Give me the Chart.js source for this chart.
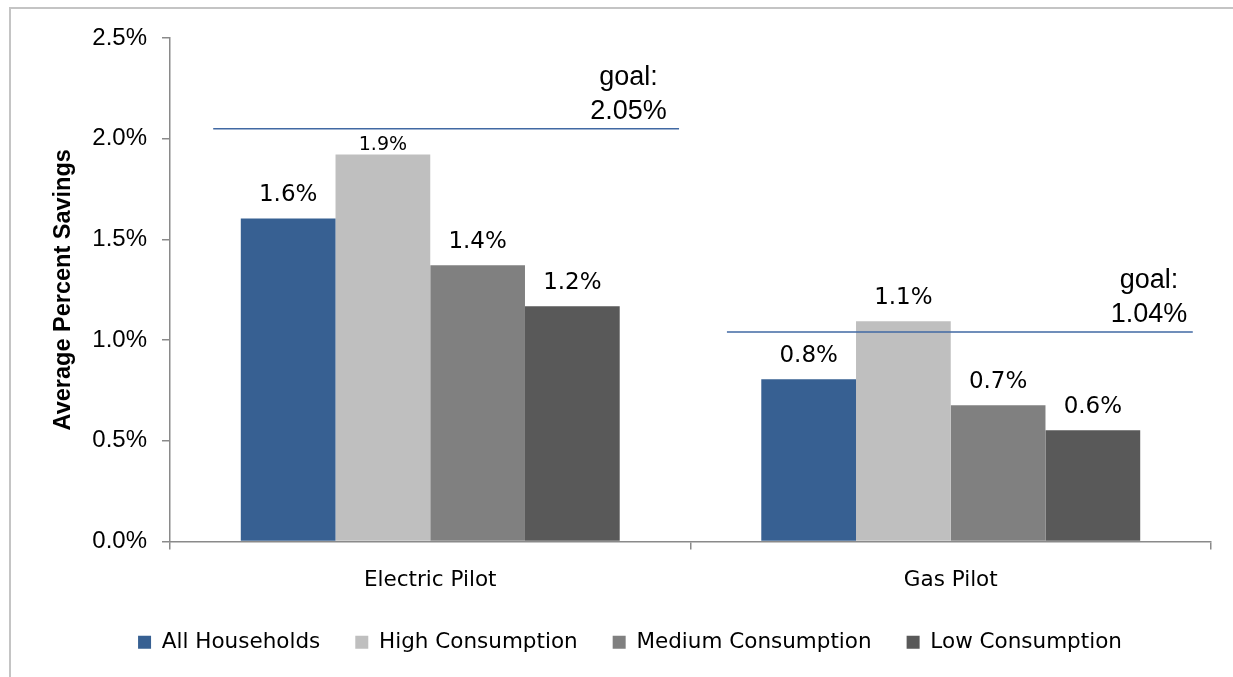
<!DOCTYPE html>
<html>
<head>
<meta charset="utf-8">
<script src="https://cdn.jsdelivr.net/npm/chart.js@4.4.1/dist/chart.umd.min.js"></script>
<style>
  html, body { margin: 0; padding: 0; background: #ffffff; overflow: hidden; }
  #wrap { position: relative; width: 1233px; height: 677px; }
</style>
</head>
<body>
<div id="wrap"><canvas id="chart" width="1233" height="677"></canvas></div>
<script>
// Average percent savings by pilot and household consumption group
const categories = ['Electric Pilot', 'Gas Pilot'];
const seriesNames = ['All Households', 'High Consumption', 'Medium Consumption', 'Low Consumption'];
const allHouseholds = [1.604, 0.805];
const highConsumption = [1.922, 1.093];
const mediumConsumption = [1.372, 0.676];
const lowConsumption = [1.168, 0.553];
// Savings goal for each pilot
const goals = [2.05, 1.04];
// Value-axis tick values
const yTicks = [0, 0.5, 1.0, 1.5, 2.0, 2.5];

const seriesColors = ['#376092', '#BFBFBF', '#808080', '#595959'];
const seriesValues = [allHouseholds, highConsumption, mediumConsumption, lowConsumption];

const axisGray = '#8A8A8A';
const labelFamily = "'DejaVu Sans', sans-serif";
const numberFamily = "'Liberation Sans', Arial, sans-serif";

// Light frame along the left and top of the chart
const framePlugin = {
  id: 'frame',
  beforeDraw(chart) {
    const ctx = chart.ctx;
    ctx.save();
    ctx.fillStyle = '#ffffff';
    ctx.fillRect(0, 0, chart.width, chart.height);
    ctx.strokeStyle = '#C4C4C4';
    ctx.lineWidth = 2;
    ctx.beginPath();
    ctx.moveTo(10, chart.height);
    ctx.lineTo(10, 8);
    ctx.lineTo(chart.width, 8);
    ctx.stroke();
    ctx.restore();
  }
};

// Value labels above each bar
const barLabelPlugin = {
  id: 'barLabels',
  afterDatasetsDraw(chart, args, opts) {
    const ctx = chart.ctx;
    ctx.save();
    ctx.fillStyle = '#000000';
    ctx.textAlign = 'center';
    ctx.textBaseline = 'alphabetic';
    chart.data.datasets.forEach((ds, i) => {
      const meta = chart.getDatasetMeta(i);
      meta.data.forEach((bar, j) => {
        const special = opts.compact.find(c => c.dataset === i && c.index === j);
        const style = special || opts.normal;
        ctx.font = style.size + 'px ' + labelFamily;
        ctx.fillText(ds.data[j].toFixed(1) + '%', bar.x, bar.y - style.gap);
      });
    });
    ctx.restore();
  }
};

// Horizontal goal line with its label over each category
const goalPlugin = {
  id: 'goalLines',
  afterDatasetsDraw(chart, args, opts) {
    const ctx = chart.ctx;
    const xs = chart.scales.x;
    const ys = chart.scales.y;
    const catW = xs.width / categories.length;
    ctx.save();
    goals.forEach((g, i) => {
      const left = xs.getPixelForValue(i) - catW / 2;
      const y = ys.getPixelForValue(g);
      const span = opts.spans[i];
      ctx.strokeStyle = '#4169A3';
      ctx.lineWidth = 1.5;
      ctx.beginPath();
      ctx.moveTo(left + span[0] * catW, y);
      ctx.lineTo(left + span[1] * catW, y);
      ctx.stroke();
      const cx = left + opts.labelAt * catW;
      ctx.fillStyle = '#000000';
      ctx.textAlign = 'center';
      ctx.textBaseline = 'alphabetic';
      ctx.font = '27px ' + numberFamily;
      ctx.fillText('goal:', cx, y - 44);
      ctx.fillText(g.toFixed(2) + '%', cx, y - 10);
    });
    ctx.restore();
  }
};

new Chart(document.getElementById('chart'), {
  type: 'bar',
  data: {
    labels: categories,
    datasets: seriesNames.map((name, i) => ({
      label: name,
      data: seriesValues[i],
      backgroundColor: seriesColors[i],
      borderWidth: 0,
      categoryPercentage: 0.728,
      barPercentage: 1.0
    }))
  },
  options: {
    responsive: false,
    animation: false,
    devicePixelRatio: 1,
    layout: { padding: { left: 49, right: 22, top: 38, bottom: 14 } },
    scales: {
      x: {
        offset: true,
        grid: { display: true, drawOnChartArea: false, drawTicks: true, tickLength: 8, color: axisGray, offset: true, lineWidth: 1.5 },
        border: { display: true, color: axisGray, width: 1.5 },
        ticks: { color: '#000000', font: { family: labelFamily, size: 21.5 }, padding: 18 },
        afterFit(scale) { scale.height = 55; }
      },
      y: {
        min: 0,
        max: 2.5,
        afterBuildTicks(scale) { scale.ticks = yTicks.map(v => ({ value: v })); },
        grid: { display: true, drawOnChartArea: false, drawTicks: true, tickLength: 8, color: axisGray, lineWidth: 1.5 },
        border: { display: true, color: axisGray, width: 1.5 },
        ticks: {
          color: '#000000',
          font: { family: numberFamily, size: 24 },
          padding: 15,
          callback: v => Number(v).toFixed(1) + '%'
        },
        title: {
          display: true,
          text: 'Average Percent Savings',
          color: '#000000',
          font: { family: numberFamily, size: 23.5, weight: 'bold' },
          padding: { top: 0, bottom: 0 }
        },
        afterFit(scale) { scale.width = 121; }
      }
    },
    plugins: {
      legend: {
        position: 'bottom',
        labels: {
          boxWidth: 13,
          boxHeight: 13,
          padding: 35,
          color: '#000000',
          font: { family: labelFamily, size: 21.5 }
        }
      },
      tooltip: { enabled: false },
      barLabels: {
        normal: { size: 23, gap: 17 },
        compact: [{ dataset: 1, index: 0, size: 19, gap: 4 }]
      },
      goalLines: {
        spans: [[0.083, 0.978], [0.070, 0.965]],
        labelAt: 0.881
      }
    }
  },
  plugins: [framePlugin, barLabelPlugin, goalPlugin]
});
</script>
</body>
</html>
